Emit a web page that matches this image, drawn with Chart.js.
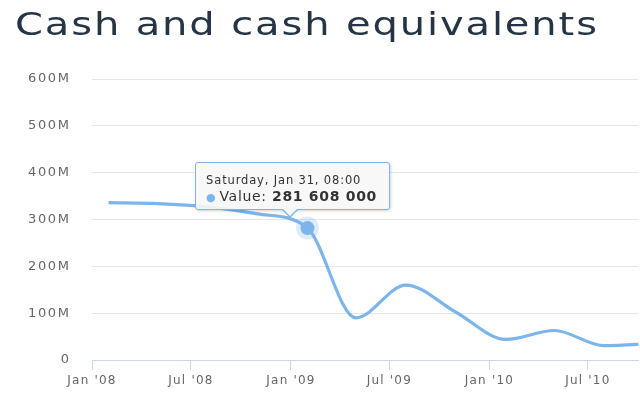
<!DOCTYPE html>
<html>
<head>
<meta charset="utf-8">
<script src="https://cdn.jsdelivr.net/npm/chart.js@4/dist/chart.umd.min.js"></script>
<style>
  html, body { margin: 0; padding: 0; background: #fff; }
  #wrap { position: relative; width: 640px; height: 400px; overflow: hidden; }
  #title { position: absolute; left: 15px; top: 8px; margin: 0; font-family: "DejaVu Sans", sans-serif; font-weight: 400; font-size: 32px; line-height: 1; letter-spacing: 1.5px; color: #253545; white-space: nowrap; transform: scaleX(1.25); transform-origin: 0 0; }
  #c { position: absolute; left: 0; top: 0; }
  #tip { position: absolute; display: none; background: rgba(247,247,247,0.9); border: 1px solid #7cb5ec; border-radius: 3px; box-shadow: 1px 1px 3px rgba(0,0,0,0.18); font-family: "DejaVu Sans", sans-serif; color: #333; padding: 0 10px; box-sizing: border-box; white-space: nowrap; }
  #tip .t1 { font-size: 11.5px; letter-spacing: 0.85px; margin-top: 10px; line-height: 14px; }
  #tip .t2 { font-size: 14px; letter-spacing: 0.7px; margin-top: 1px; line-height: 17px; }
  #tip .dot { color: #7cb5ec; font-size: 11px; margin-right: 3px; }
  #tip b { font-weight: 700; }
</style>
</head>
<body>
<div id="wrap">
  <canvas id="c" width="640" height="400"></canvas>
  <h1 id="title">Cash and cash equivalents</h1>
  <div id="tip"><div class="t1" id="tipTitle"></div><div class="t2"><span class="dot">&#9679;</span>Value: <b id="tipVal"></b></div><div id="caret1"></div><div id="caret2"></div></div>
</div>
<script>
// ---- data ----
const dates = ["2008-01-31","2008-04-30","2008-07-31","2008-10-31","2009-01-31","2009-04-30","2009-07-31","2009-10-31","2010-01-31","2010-04-30","2010-07-31","2010-10-31"];
const values = [336000000, 334000000, 327000000, 312000000, 281608000, 90000000, 160000000, 102000000, 44000000, 63000000, 30500000, 35000000];
const tickDates = ["2008-01-01","2008-07-01","2009-01-01","2009-07-01","2010-01-01","2010-07-01"];
const tickLabels = ["Jan '08","Jul '08","Jan '09","Jul '09","Jan '10","Jul '10"];
const yTicks = [0, 100000000, 200000000, 300000000, 400000000, 500000000, 600000000];
const yTickLabels = ["0","100M","200M","300M","400M","500M","600M"];
const activeIndex = 4;

const toMs = (s, h) => { const [y,m,d] = s.split('-').map(Number); return Date.UTC(y, m-1, d, h||0); };
const points = dates.map((d, i) => ({ x: toMs(d, 8), y: values[i] }));
const tickMs = tickDates.map(d => toMs(d));
const xMin = toMs("2008-01-01");
const xMax = toMs("2010-10-02");

const blue = '#7cb5ec';
const dayNames = ['Sunday','Monday','Tuesday','Wednesday','Thursday','Friday','Saturday'];
const monNames = ['Jan','Feb','Mar','Apr','May','Jun','Jul','Aug','Sep','Oct','Nov','Dec'];
function fmtDate(ms) {
  const d = new Date(ms);
  const hh = String(d.getUTCHours()).padStart(2,'0'), mm = String(d.getUTCMinutes()).padStart(2,'0');
  return dayNames[d.getUTCDay()] + ', ' + monNames[d.getUTCMonth()] + ' ' + d.getUTCDate() + ', ' + hh + ':' + mm;
}
function fmtVal(v) { return String(Math.round(v)).replace(/\B(?=(\d{3})+(?!\d))/g, ' '); }

// per-axis letter spacing for tick labels
const spacing = {
  id: 'spacing',
  beforeDraw(chart) {
    const conf = { x: '1.2px', y: '1.6px' };
    Object.keys(conf).forEach(id => {
      const s = chart.scales[id];
      if (s && !s.__wrapped) {
        const orig = s.drawLabels.bind(s);
        s.drawLabels = function(area) {
          const ctx = this.ctx;
          const prev = ctx.letterSpacing;
          ctx.letterSpacing = conf[id];
          orig(area);
          ctx.letterSpacing = prev || '0px';
        };
        s.__wrapped = true;
      }
    });
  }
};

const halo = {
  id: 'halo',
  afterDatasetsDraw(chart) {
    const el = chart.getDatasetMeta(0).data[activeIndex];
    if (!el) return;
    const ctx = chart.ctx;
    ctx.save();
    ctx.beginPath();
    ctx.arc(el.x, el.y, 11.5, 0, Math.PI * 2);
    ctx.fillStyle = 'rgba(124,181,236,0.25)';
    ctx.fill();
    ctx.beginPath();
    ctx.arc(el.x, el.y, 7, 0, Math.PI * 2);
    ctx.fillStyle = blue;
    ctx.fill();
    ctx.restore();
  }
};

function externalTip(context) {
  const tip = document.getElementById('tip');
  const t = context.tooltip;
  if (!t || t.opacity === 0 || !t.dataPoints || !t.dataPoints.length) { return; }
  const dp = t.dataPoints[0];
  document.getElementById('tipTitle').textContent = fmtDate(dp.parsed.x);
  document.getElementById('tipVal').textContent = fmtVal(dp.parsed.y);
  const w = 195, h = 48;
  tip.style.width = w + 'px';
  tip.style.height = h + 'px';
  tip.style.left = (t.caretX - 113) + 'px';
  tip.style.top = (t.caretY - 66) + 'px';
  tip.style.display = 'block';
  const c1 = document.getElementById('caret1');
  const c2 = document.getElementById('caret2');
  const cx = 113 - 18 - 1;
  c1.style.cssText = 'position:absolute;width:0;height:0;left:' + (cx - 8) + 'px;top:' + (h - 1) + 'px;border-left:8px solid transparent;border-right:8px solid transparent;border-top:8px solid ' + blue + ';';
  c2.style.cssText = 'position:absolute;width:0;height:0;left:' + (cx - 7) + 'px;top:' + (h - 2) + 'px;border-left:7px solid transparent;border-right:7px solid transparent;border-top:7px solid #f7f7f7;';
}

const chart = new Chart(document.getElementById('c'), {
  type: 'line',
  data: {
    datasets: [{
      data: points,
      borderColor: blue,
      backgroundColor: blue,
      borderWidth: 3.2,
      cubicInterpolationMode: 'monotone',
      pointRadius: 0,
      pointHoverRadius: 0,
      fill: false,
      clip: { left: 0, right: 0, top: 20, bottom: 0 }
    }]
  },
  options: {
    responsive: false,
    animation: false,
    events: [],
    layout: { padding: { top: 79, right: 0, left: 0, bottom: 0 } },
    plugins: {
      legend: { display: false },
      title: { display: false },
      tooltip: { enabled: false, external: externalTip }
    },
    scales: {
      x: {
        type: 'linear',
        min: xMin,
        max: xMax,
        afterBuildTicks(scale) { scale.ticks = tickMs.map(v => ({ value: v })); },
        afterFit(scale) { scale.height = 40; },
        ticks: {
          autoSkip: false,
          maxRotation: 0,
          padding: 4,
          color: '#666',
          font: { family: '"DejaVu Sans", sans-serif', size: 12 },
          callback(v) { const i = tickMs.indexOf(v); return i >= 0 ? tickLabels[i] : ''; }
        },
        grid: { drawOnChartArea: false, drawTicks: true, tickLength: 10, color: '#ccd6eb', lineWidth: 1 },
        border: { display: true, color: '#ccd6eb', width: 1 }
      },
      y: {
        min: 0,
        max: 600000000,
        afterBuildTicks(scale) { scale.ticks = yTicks.map(v => ({ value: v })); },
        afterFit(scale) { scale.width = 92; },
        ticks: {
          padding: 21.5,
          color: '#666',
          font: { family: '"DejaVu Sans", sans-serif', size: 13 },
          callback(v) { const i = yTicks.indexOf(v); return i >= 0 ? yTickLabels[i] : ''; }
        },
        grid: { color: '#e6e6e6', drawTicks: false, lineWidth: 1 },
        border: { display: false }
      }
    }
  },
  plugins: [spacing, halo]
});

chart.setActiveElements([{ datasetIndex: 0, index: activeIndex }]);
chart.tooltip.setActiveElements([{ datasetIndex: 0, index: activeIndex }], { x: 0, y: 0 });
chart.update();
</script>
</body>
</html>
